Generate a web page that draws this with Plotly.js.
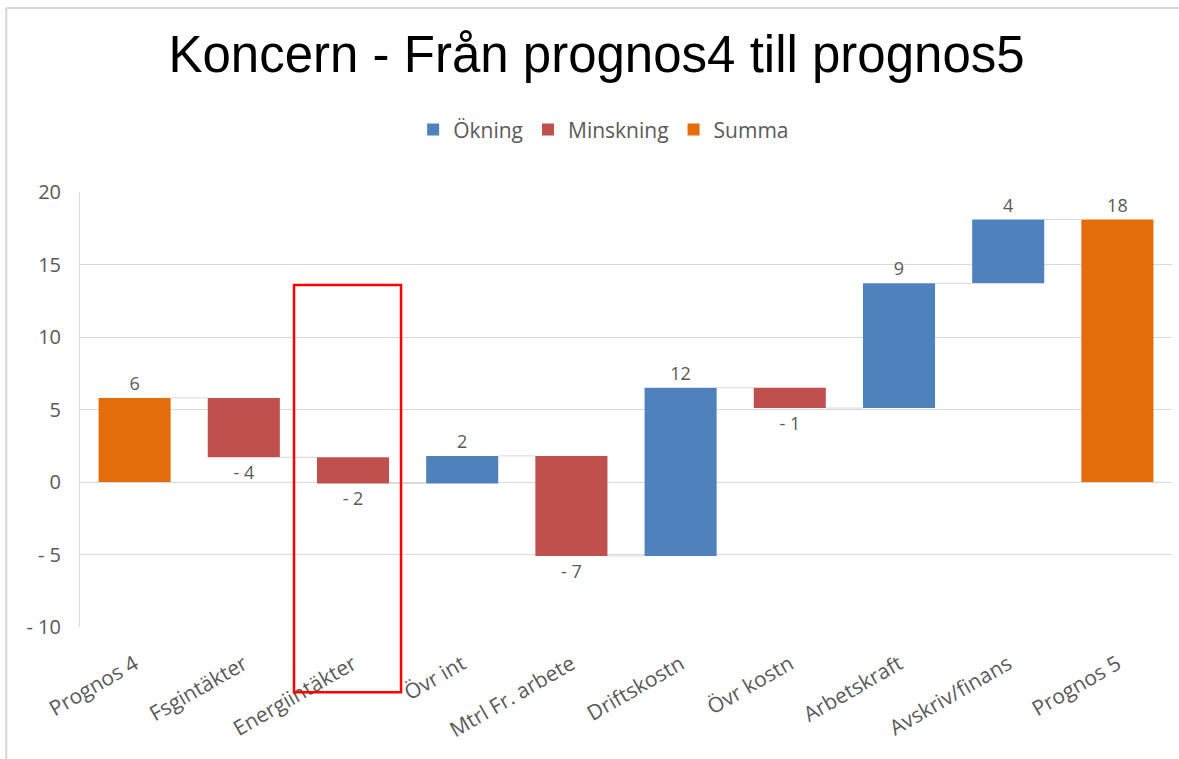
<!DOCTYPE html>
<html>
<head>
<meta charset="utf-8">
<script src="https://cdn.plot.ly/plotly-3.0.1.min.js"></script>
<style>
html,body{margin:0;padding:0;background:#fff;}
#chart{width:1179px;height:759px;}
</style>
</head>
<body>
<div id="chart"></div>
<script>
// ---- data ----
const categories = ["Prognos 4","Fsgintäkter","Energiintäkter","Övr int","Mtrl Fr. arbete","Driftskostn","Övr kostn","Arbetskraft","Avskriv/finans","Prognos 5"];
const kinds = ["total","delta","delta","delta","delta","delta","delta","delta","delta","total"];
const values = [5.8, -4.1, -1.8, 1.9, -6.9, 11.6, -1.4, 8.6, 4.4, 18.1];
const yTickVals = [-10,-5,0,5,10,15,20];
const yTickText = ["- 10","- 5","0","5","10","15","20"];
const seriesNames = ["Ökning","Minskning","Summa"];
const seriesColors = ["#4f81bd","#c0504d","#e46c0a"];

// ---- derived ----
const fmt = v => v < 0 ? "- " + Math.round(-v) : String(Math.round(v));
let cum = [];
let prev = [];
let running = 0;
values.forEach((v,i)=>{
  if (kinds[i] === "total") { prev.push(0); running = v; }
  else { prev.push(running); running += v; }
  cum.push(running);
});

function series(filter){
  const x=[], y=[], base=[], text=[];
  categories.forEach((c,i)=>{
    if (filter(i)) { x.push(c); y.push(values[i]); base.push(prev[i]); text.push(fmt(values[i])); }
  });
  return {x,y,base,text};
}
const inc = series(i=>kinds[i]==="delta" && values[i]>=0);
const dec = series(i=>kinds[i]==="delta" && values[i]<0);
const tot = series(i=>kinds[i]==="total");

const FONT = "Open Sans, Noto Sans, sans-serif";
const labelFont = {family:FONT, size:18, color:"#595959"};
function bar(s, name, color){
  return {
    type:"bar", x:s.x, y:s.y, base:s.base, name:name,
    marker:{color:color, line:{width:0}},
    text:s.text, textposition:"outside", textfont:labelFont, cliponaxis:false,
    width:0.66, hoverinfo:"x+text"
  };
}
const traces = [
  bar(inc, seriesNames[0], seriesColors[0]),
  bar(dec, seriesNames[1], seriesColors[1]),
  bar(tot, seriesNames[2], seriesColors[2])
];

// connectors between bars
const shapes = [];
for (let i=0;i<categories.length-1;i++){
  shapes.push({type:"line", xref:"x", yref:"y", x0:i+0.33, x1:i+1-0.33, y0:cum[i], y1:cum[i],
    line:{color:"#d9d9d9", width:1}, layer:"below"});
}
// highlight box around Energiintäkter
shapes.push({type:"rect", xref:"x", yref:"paper", x0:1.46, x1:2.44, y0:-0.150, y1:0.786,
  line:{color:"#ff0000", width:2.5}, fillcolor:"rgba(0,0,0,0)", layer:"above"});
// picture frame (left and top)
shapes.push({type:"line", xref:"paper", yref:"paper", x0:-0.0675, x1:-0.0675, y0:-0.31, y1:1.423, line:{color:"#d4d4d4", width:2}});
shapes.push({type:"line", xref:"paper", yref:"paper", x0:-0.0675, x1:1.01, y0:1.423, y1:1.423, line:{color:"#d4d4d4", width:2}});

const layout = {
  width:1179, height:759,
  paper_bgcolor:"#ffffff", plot_bgcolor:"#ffffff",
  margin:{l:80, r:7, t:192, b:132},
  barmode:"overlay",
  showlegend:true,
  title:{text:"Koncern - Från prognos4 till prognos5", font:{family:"Liberation Sans, Arial, sans-serif", size:51, color:"#000000"},
    x:0.506, xanchor:"center", xref:"container", y:0.928, yanchor:"middle", yref:"container"},
  legend:{orientation:"h", x:0.512, xanchor:"center", xref:"container", y:0.829, yanchor:"middle", yref:"container",
    font:{family:FONT, size:21, color:"#595959"}, itemwidth:30, traceorder:"normal"},
  xaxis:{type:"category", categoryorder:"array", categoryarray:categories, range:[-0.5, categories.length-0.5],
    tickangle:-30, tickfont:{family:FONT, size:21, color:"#595959"}, ticklabelstandoff:20,
    showgrid:false, showline:false, ticks:"", zeroline:false, fixedrange:true},
  yaxis:{range:[-10,20], tickvals:yTickVals, ticktext:yTickText, showgrid:true, gridcolor:"#d9d9d9", gridwidth:1,
    zeroline:false, showline:true, linecolor:"#d9d9d9", linewidth:1, ticks:"", ticklen:0, ticklabelstandoff:14,
    tickfont:{family:FONT, size:20, color:"#595959"}, fixedrange:true},
  shapes:shapes,
  font:{family:FONT, color:"#595959"}
};
Plotly.newPlot("chart", traces, layout, {displayModeBar:false, staticPlot:true});
</script>
</body>
</html>
